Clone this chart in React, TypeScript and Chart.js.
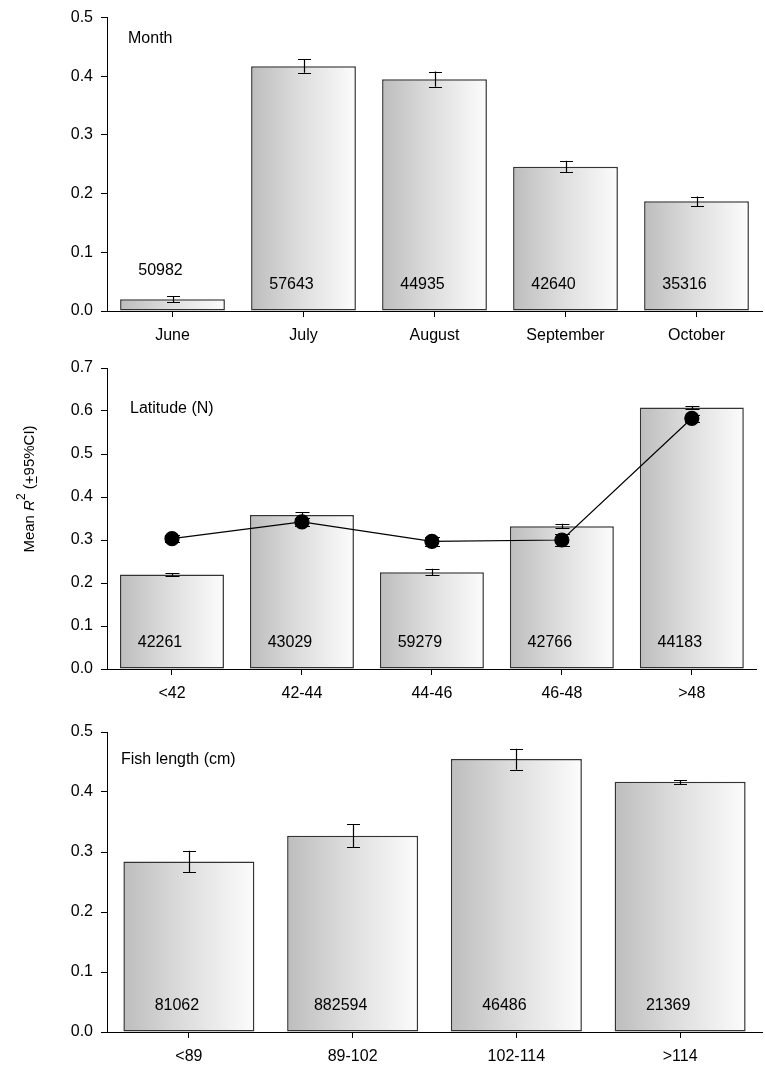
import React, { useEffect, useRef } from 'react';
import { Chart, registerables } from 'chart.js';

Chart.register(...registerables);

const FONT = '"Liberation Sans", Arial, Helvetica, sans-serif';

// Panel 1: Month
const monthLabels = ['June', 'July', 'August', 'September', 'October'];
const monthMeans = [0.02, 0.417, 0.395, 0.246, 0.187];
const monthLow = [0.015, 0.406, 0.382, 0.237, 0.179];
const monthHigh = [0.025, 0.429, 0.408, 0.256, 0.195];
const monthCounts = ['50982', '57643', '44935', '42640', '35316'];

// Panel 2: Latitude
const latLabels = ['<42', '42-44', '44-46', '46-48', '>48'];
const latMeans = [0.22, 0.358, 0.225, 0.332, 0.608];
const latLow = [0.217, 0.352, 0.218, 0.327, 0.605];
const latHigh = [0.223, 0.364, 0.233, 0.338, 0.611];
const latLine = [0.303, 0.342, 0.297, 0.3, 0.583];
const latLineLow = [0.295, 0.333, 0.287, 0.287, 0.575];
const latLineHigh = [0.311, 0.352, 0.308, 0.313, 0.591];
const latCounts = ['42261', '43029', '59279', '42766', '44183'];

// Panel 3: Fish length
const lenLabels = ['<89', '89-102', '102-114', '>114'];
const lenMeans = [0.284, 0.327, 0.455, 0.417];
const lenLow = [0.266, 0.308, 0.437, 0.413];
const lenHigh = [0.302, 0.346, 0.472, 0.42];
const lenCounts = ['81062', '882594', '46486', '21369'];

const yMax1 = 0.5;
const yMax2 = 0.7;
const yMax3 = 0.5;

const BAR_PCT = 0.8;

function barGradient(c: any) {
  const chart = c.chart;
  const xs = chart.scales && chart.scales.x;
  if (!xs || c.dataIndex === undefined || c.dataIndex === null) return '#d8d8d8';
  const n = chart.data.labels.length;
  const cx = xs.getPixelForValue(c.dataIndex);
  const w = (xs.width / n) * BAR_PCT;
  if (!isFinite(cx) || !isFinite(w) || w <= 0) return '#d8d8d8';
  const g = chart.ctx.createLinearGradient(cx - w / 2, 0, cx + w / 2, 0);
  g.addColorStop(0, '#bdbdbd');
  g.addColorStop(0.45, '#dcdcdc');
  g.addColorStop(1, '#fcfcfc');
  return g;
}

function errorBarPlugin(sets: { low: number[]; high: number[]; cap: number }[]) {
  return {
    id: 'errbars',
    afterDatasetsDraw(chart: any) {
      const ctx = chart.ctx;
      const xs = chart.scales.x;
      const ys = chart.scales.y;
      ctx.save();
      ctx.strokeStyle = '#000';
      ctx.lineWidth = 1.2;
      for (const s of sets) {
        for (let i = 0; i < s.low.length; i++) {
          const cx = Math.round(xs.getPixelForValue(i)) + 0.5;
          const yl = ys.getPixelForValue(s.low[i]);
          const yh = ys.getPixelForValue(s.high[i]);
          ctx.beginPath();
          ctx.moveTo(cx, yl);
          ctx.lineTo(cx, yh);
          ctx.moveTo(cx - s.cap / 2, Math.round(yl) + 0.5);
          ctx.lineTo(cx + s.cap / 2, Math.round(yl) + 0.5);
          ctx.moveTo(cx - s.cap / 2, Math.round(yh) + 0.5);
          ctx.lineTo(cx + s.cap / 2, Math.round(yh) + 0.5);
          ctx.stroke();
        }
      }
      ctx.restore();
    },
  };
}

function textPlugin(title: string, titleX: number, titleY: number, counts: string[], means: number[]) {
  return {
    id: 'texts',
    afterDatasetsDraw(chart: any) {
      const ctx = chart.ctx;
      const xs = chart.scales.x;
      const ys = chart.scales.y;
      const bottom = ys.getPixelForValue(0);
      ctx.save();
      ctx.fillStyle = '#000';
      ctx.font = `16px ${FONT}`;
      ctx.textBaseline = 'middle';
      ctx.textAlign = 'left';
      ctx.fillText(title, titleX, titleY);
      ctx.textAlign = 'center';
      for (let i = 0; i < counts.length; i++) {
        const cx = xs.getPixelForValue(i) - 12;
        const top = ys.getPixelForValue(means[i]);
        let y = bottom - 26;
        if (bottom - top < 36) y = top - 29;
        ctx.fillText(counts[i], cx, y);
      }
      ctx.restore();
    },
  };
}

const yTitlePlugin = {
  id: 'ytitle',
  afterDraw(chart: any) {
    const ctx = chart.ctx;
    ctx.save();
    ctx.translate(29, 139);
    ctx.rotate(-Math.PI / 2);
    ctx.fillStyle = '#000';
    ctx.strokeStyle = '#000';
    ctx.textBaseline = 'alphabetic';
    ctx.textAlign = 'left';
    const normal = `15px ${FONT}`;
    const italic = `italic 15px ${FONT}`;
    const small = `12px ${FONT}`;
    const parts: { t: string; f: string; dy: number; ul?: boolean }[] = [
      { t: 'Mean ', f: normal, dy: 0 },
      { t: 'R', f: italic, dy: 0 },
      { t: '2', f: small, dy: -9 },
      { t: ' (', f: normal, dy: 0 },
      { t: '+', f: normal, dy: 0, ul: true },
      { t: '95%CI)', f: normal, dy: 0 },
    ];
    let total = 0;
    for (const p of parts) {
      ctx.font = p.f;
      total += ctx.measureText(p.t).width;
    }
    let x = -total / 2;
    const base = 5;
    for (const p of parts) {
      ctx.font = p.f;
      const w = ctx.measureText(p.t).width;
      ctx.fillText(p.t, x, base + p.dy);
      if (p.ul) {
        ctx.beginPath();
        ctx.lineWidth = 1;
        ctx.moveTo(x + 1, base + 2.5);
        ctx.lineTo(x + w - 1, base + 2.5);
        ctx.stroke();
      }
      x += w;
    }
    ctx.restore();
  },
};

function scalesFor(yMax: number, xHeight: number) {
  return {
    x: {
      offset: true,
      grid: { offset: false, drawOnChartArea: false, drawTicks: true, tickLength: 6, color: '#000', lineWidth: 1 },
      border: { display: true, color: '#000', width: 1 },
      ticks: { color: '#000', font: { family: FONT, size: 16 }, padding: 9, maxRotation: 0, autoSkip: false },
      afterFit: (s: any) => {
        s.height = xHeight;
      },
    },
    y: {
      min: 0,
      max: yMax,
      grid: { drawOnChartArea: false, drawTicks: true, tickLength: 6, color: '#000', lineWidth: 1 },
      border: { display: true, color: '#000', width: 1 },
      ticks: {
        stepSize: 0.1,
        color: '#000',
        font: { family: FONT, size: 16 },
        padding: 8,
        callback: (v: any) => Number(v).toFixed(1),
      },
      afterFit: (s: any) => {
        s.width = 107;
      },
    },
  };
}

function barDataset(means: number[]) {
  return {
    type: 'bar' as const,
    data: means,
    backgroundColor: barGradient,
    borderColor: '#333333',
    borderWidth: 1.5,
    borderSkipped: false,
    barPercentage: BAR_PCT,
    categoryPercentage: 1,
    order: 1,
  };
}

const commonOptions = (yMax: number, xHeight: number, padTop: number) => ({
  responsive: false,
  animation: false as const,
  layout: { padding: { top: padTop, right: 3, left: 0, bottom: 0 } },
  plugins: { legend: { display: false }, tooltip: { enabled: false }, title: { display: false } },
  scales: scalesFor(yMax, xHeight),
});

export default function App() {
  const c1 = useRef<HTMLCanvasElement>(null);
  const c2 = useRef<HTMLCanvasElement>(null);
  const c3 = useRef<HTMLCanvasElement>(null);

  useEffect(() => {
    const ch1 = new Chart(c1.current!, {
      type: 'bar',
      data: { labels: monthLabels, datasets: [barDataset(monthMeans)] },
      options: commonOptions(yMax1, 39, 11) as any,
      plugins: [
        errorBarPlugin([{ low: monthLow, high: monthHigh, cap: 13 }]),
        textPlugin('Month', 128, 39, monthCounts, monthMeans),
      ],
    });
    const ch2 = new Chart(c2.current!, {
      type: 'bar',
      data: {
        labels: latLabels,
        datasets: [
          {
            type: 'line',
            data: latLine,
            borderColor: '#000',
            borderWidth: 1.2,
            pointRadius: 7,
            pointBackgroundColor: '#000',
            pointBorderColor: '#000',
            fill: false,
            tension: 0,
            order: 0,
          } as any,
          barDataset(latMeans),
        ],
      },
      options: commonOptions(yMax2, 43, 18) as any,
      plugins: [
        errorBarPlugin([
          { low: latLow, high: latHigh, cap: 14 },
          { low: latLineLow, high: latLineHigh, cap: 15 },
        ]),
        textPlugin('Latitude (N)', 130, 59, latCounts, latMeans),
        yTitlePlugin,
      ],
    });
    const ch3 = new Chart(c3.current!, {
      type: 'bar',
      data: { labels: lenLabels, datasets: [barDataset(lenMeans)] },
      options: commonOptions(yMax3, 33, 20) as any,
      plugins: [
        errorBarPlugin([{ low: lenLow, high: lenHigh, cap: 13 }]),
        textPlugin('Fish length (cm)', 121, 48, lenCounts, lenMeans),
      ],
    });
    return () => {
      ch1.destroy();
      ch2.destroy();
      ch3.destroy();
    };
  }, []);

  return (
    <div style={{ position: 'absolute', top: 0, left: 0, width: 765, height: 1065, background: '#fff' }}>
      <canvas ref={c1} width={765} height={350} style={{ position: 'absolute', top: 0, left: 0, display: 'block' }} />
      <canvas ref={c2} width={765} height={362} style={{ position: 'absolute', top: 350, left: 0, display: 'block' }} />
      <canvas ref={c3} width={765} height={353} style={{ position: 'absolute', top: 712, left: 0, display: 'block' }} />
    </div>
  );
}
